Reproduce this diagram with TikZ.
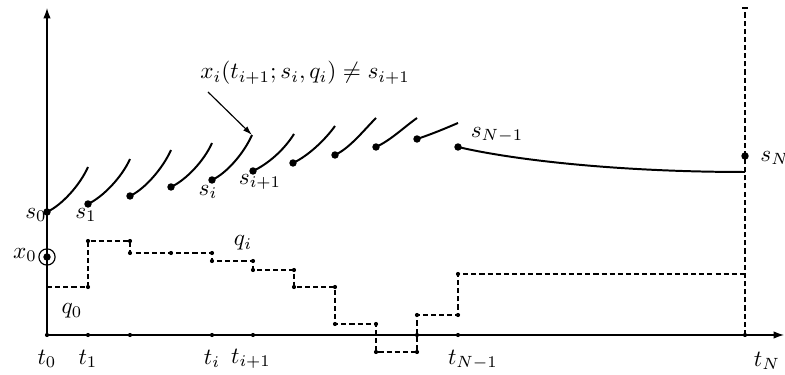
\documentclass[tikz,border=0pt]{standalone}
\usetikzlibrary{arrows.meta}
\begin{document}
\begin{tikzpicture}[x=0.43pt,y=-0.43pt,
  axis/.style={line width=0.5pt,-{Latex[length=4.5pt,width=3.2pt]}},
  traj/.style={line width=0.85pt},
  ctrl/.style={line width=0.5pt,dash pattern=on 2.2pt off 1.3pt},
  bigdot/.style={circle,fill,inner sep=0pt,minimum size=3.2pt},
  smalldot/.style={circle,fill,inner sep=0pt,minimum size=1.8pt},
  lbl/.style={inner sep=0pt}]
\useasboundingbox (0,0) rectangle (785,375);
% axes
\coordinate (O) at (47,335);
\coordinate (Ytop) at (47,8);
\coordinate (Xend) at (784,335);
\draw[axis] (O) -- (Ytop);
\draw[axis] (O) -- (Xend);
% final time dashed line
\coordinate (TNtop) at (745,8);
\coordinate (TN) at (745,335);
\draw[ctrl] (TN) -- (TNtop);
\draw[line width=0.5pt] (742,8) -- (748,8);
% time ticks
\foreach \n/\x in {t0/47,t1/88,t2/130,ti/212,tip/253,t9/417,tNm/458,tNN/745}{
  \node[smalldot] (\n) at (\x,335) {};
}
% shooting nodes
\foreach \n/\x/\y in {s0/47/212,s1/88/204,s2/130/196,s3/171/187,s4/212/180,s5/253/171,s6/293/163,s7/335/155,s8/376/147,s9/417/139,s10/458/147,sN/745/156}{
  \node[bigdot] (\n) at (\x,\y) {};
}
% arc end points
\foreach \n/\x/\y in {e0/88/167,e1/130/159,e2/171/150,e3/212/143,e4/252/135,e5/294/134,e6/335/126,e7/376/118,e8/417/118,e9/458/123,e10/745/172}{
  \coordinate (\n) at (\x,\y);
}
% trajectory pieces
\draw[traj] (s0.center) .. controls +(15,-7) and +(-8,18) .. (e0);
\draw[traj] (s1.center) .. controls +(15,-7) and +(-8,18) .. (e1);
\draw[traj] (s2.center) .. controls +(15,-7) and +(-8,18) .. (e2);
\draw[traj] (s3.center) .. controls +(15,-7) and +(-8,18) .. (e3);
\draw[traj] (s4.center) .. controls +(15,-7) and +(-8,18) .. (e4);
\draw[traj] (s5.center) .. controls +(15,-7) and +(-10,16) .. (e5);
\draw[traj] (s6.center) .. controls +(15,-7) and +(-10,14) .. (e6);
\draw[traj] (s7.center) .. controls +(15,-7) and +(-12,12) .. (e7);
\draw[traj] (s8.center) .. controls +(15,-7) and +(-14,10) .. (e8);
\draw[traj] (s9.center) .. controls +(15,-5) and +(-14,6) .. (e9);
\draw[traj] (s10.center) .. controls +(60,14) and +(-120,0) .. (e10);
% annotation
\node[lbl] (ann) at (305,73) {$x_i(t_{i+1};s_i,q_i)\neq s_{i+1}$};
\coordinate (annA) at (208,92);
\draw[line width=0.5pt,-{Latex[length=4pt,width=2.5pt]}] (annA) -- (e4);
% controls (piecewise constant)
\foreach \n/\x/\y in {
 c0/88/287,c1/88/241,c2/130/241,c3/130/253,c4/171/253,c5/212/253,c6/212/261,c7/253/261,c8/253/270,c9/294/270,c10/294/287,c11/335/287,c12/335/324,c13/376/324,c14/376/352,c15/417/352,c16/417/315,c17/458/315,c18/458/274}{
  \node[smalldot] (\n) at (\x,\y) {};
}
\coordinate (q0s) at (47,287);
\coordinate (qend) at (745,274);
\draw[ctrl] (q0s) -- (c0.center) -- (c1.center) -- (c2.center) -- (c3.center) -- (c4.center) -- (c5.center) -- (c6.center) -- (c7.center) -- (c8.center) -- (c9.center) -- (c10.center) -- (c11.center) -- (c12.center) -- (c13.center) -- (c14.center) -- (c15.center) -- (c16.center) -- (c17.center) -- (c18.center) -- (qend);
% x0 marker
\node[circle,draw,line width=0.5pt,inner sep=0pt,minimum size=7pt] (x0c) at (47,257) {};
\node[bigdot] (x0d) at (47,257) {};
% labels
\node[lbl] (ls0) at (36,215) {$s_0$};
\node[lbl] (ls1) at (86,215) {$s_1$};
\node[lbl] (lsi) at (208,192) {$s_i$};
\node[lbl] (lsip) at (260,182) {$s_{i+1}$};
\node[lbl] (lsNm) at (497,135) {$s_{N-1}$};
\node[lbl,anchor=west] (lsN) at (760,158) {$s_N$};
\node[lbl] (lx0) at (25,255) {$x_0$};
\node[lbl] (lqi) at (243,243) {$q_i$};
\node[lbl] (lq0) at (72,311) {$q_0$};
\node[lbl] (lt0) at (47,359) {$t_0$};
\node[lbl] (lt1) at (88,359) {$t_1$};
\node[lbl] (lti) at (212,359) {$t_i$};
\node[lbl] (ltip) at (251,359) {$t_{i+1}$};
\node[lbl] (ltNm) at (473,360) {$t_{N-1}$};
\node[lbl] (ltN) at (767,361) {$t_N$};
\end{tikzpicture}
\end{document}
